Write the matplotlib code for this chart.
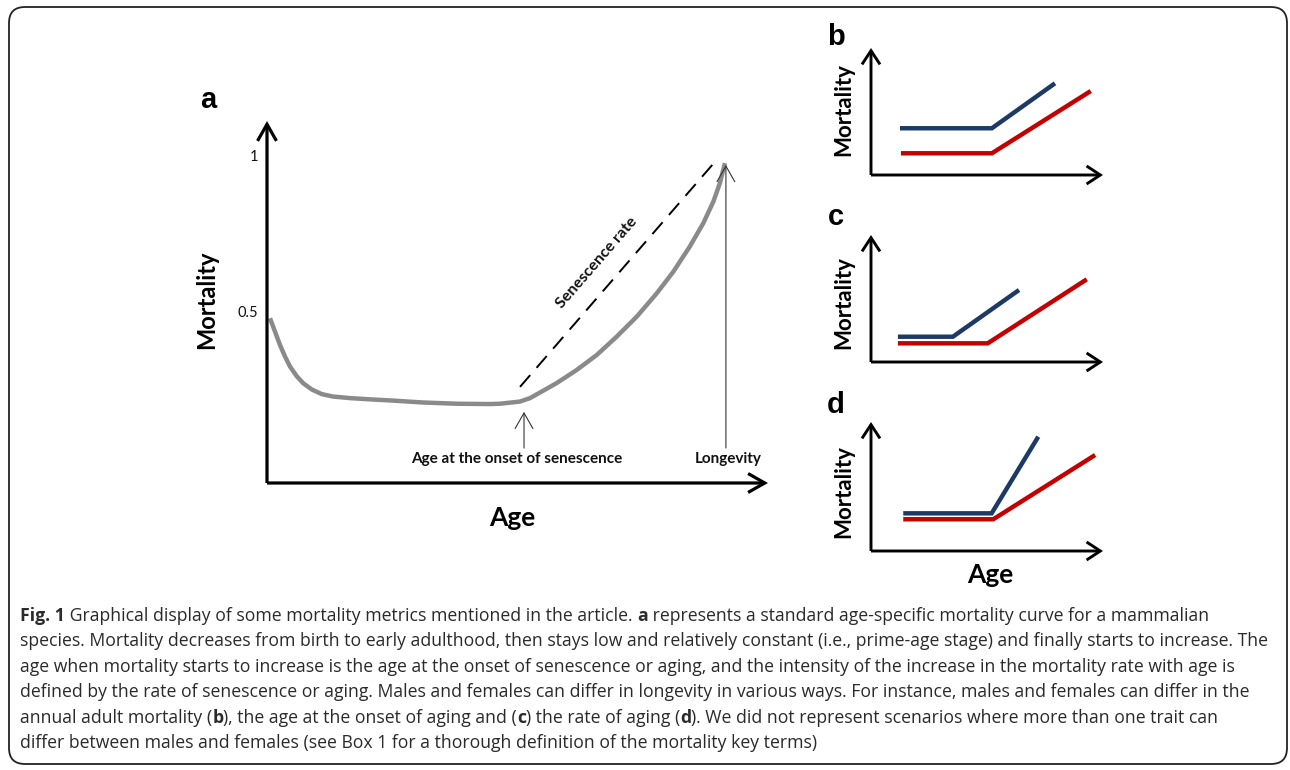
import matplotlib
matplotlib.use("Agg")
import matplotlib.pyplot as plt
from matplotlib.patches import FancyBboxPatch
from matplotlib.transforms import IdentityTransform

# panel a: standard age-specific mortality curve (age 0-100, mortality 0-1)
age_a = [0.6, 1.6, 2.6, 3.6, 4.6, 5.9, 7.2, 8.9, 10.9, 13.2, 16.6, 20.6, 25.2,
         31.1, 37.9, 44.5, 46.5, 50.5, 52.5, 54.5, 57.8, 61.8, 65.8, 69.8, 73.8,
         77.8, 81.1, 84.4, 87.1, 89.1, 90.4, 91.4]
mort_a = [0.483, 0.440, 0.397, 0.360, 0.328, 0.298, 0.275, 0.255, 0.240, 0.232,
          0.227, 0.223, 0.219, 0.213, 0.209, 0.208, 0.209, 0.216, 0.227, 0.245,
          0.275, 0.317, 0.365, 0.424, 0.488, 0.563, 0.632, 0.713, 0.788, 0.857,
          0.916, 0.980]
rate_age = [50.5, 89.4]
rate_mort = [0.263, 0.984]
onset_age = 51.3
longevity_age = 91.6
yticks_a = [0.5, 1.0]
ytick_labels_a = ["0.5", "1"]

# panels b, c, d: males (blue) and females (red), arbitrary units 0-100
b_age_m = [12.5, 52.1, 79.3]
b_mort_m = [36.8, 36.8, 72.2]
b_age_f = [12.9, 52.1, 94.7]
b_mort_f = [17.1, 17.1, 66.1]

c_age_m = [11.6, 35.3, 63.8]
c_mort_m = [19.9, 19.9, 56.7]
c_age_f = [11.6, 50.3, 93.0]
c_mort_f = [14.7, 14.7, 65.1]

d_age_m = [13.9, 52.0, 72.1]
d_mort_m = [29.2, 29.2, 88.6]
d_age_f = [13.9, 52.7, 96.6]
d_mort_f = [24.6, 24.6, 74.4]

caption = [
    [("Fig. 1", True), (" Graphical display of some mortality metrics mentioned in the article. ", False),
     ("a", True), (" represents a standard age-specific mortality curve for a mammalian", False)],
    [("species. Mortality decreases from birth to early adulthood, then stays low and relatively constant "
      "(i.e., prime-age stage) and finally starts to increase. The", False)],
    [("age when mortality starts to increase is the age at the onset of senescence or aging, and the "
      "intensity of the increase in the mortality rate with age is", False)],
    [("defined by the rate of senescence or aging. Males and females can differ in longevity in various "
      "ways. For instance, males and females can differ in the", False)],
    [("annual adult mortality (", False), ("b", True), ("), the age at the onset of aging and (", False),
     ("c", True), (") the rate of aging (", False), ("d", True),
     ("). We did not represent scenarios where more than one trait can", False)],
    [("differ between males and females (see Box 1 for a thorough definition of the mortality key terms)", False)],
]

W, H = 1290, 770
BLUE = "#1d3a66"
RED = "#c40000"
LABEL_FONT = ["Lato", "DejaVu Sans"]


def fx(x):
    return x / W


def fy(y):
    return 1 - y / H


def axis_arrows(ax, lw, hl, hw, ms):
    style = "->,head_length=%s,head_width=%s" % (hl, hw)
    for end in [(1, 0), (0, 1)]:
        ax.annotate("", xy=end, xytext=(0, 0), xycoords="axes fraction",
                    arrowprops=dict(arrowstyle=style, lw=lw, color="black",
                                    mutation_scale=ms, shrinkA=0, shrinkB=0,
                                    joinstyle="miter", capstyle="butt"),
                    annotation_clip=False)


fig = plt.figure(figsize=(W / 100, H / 100), dpi=100)

# rounded frame around the figure
frame = FancyBboxPatch((9, 6), 1278, 757, boxstyle="round,pad=0,rounding_size=16",
                       transform=IdentityTransform(), fill=False, lw=1.3, ec="#222222")
fig.add_artist(frame)

# ---- panel a ----
ax = fig.add_axes([fx(267), fy(483), (768 - 267) / W, (483 - 121) / H])
ax.set_xlim(0, 100)
ax.set_ylim(-0.045, 1.115)
ax.axis("off")
axis_arrows(ax, 2.3, 0.6, 0.34, 20)
ax.plot(age_a, mort_a, color="#8a8a8a", lw=3.2, solid_joinstyle="round",
        solid_capstyle="butt")
ax.plot(rate_age, rate_mort, color="black", lw=1.4, dashes=(8, 5))
for v, lab in zip(yticks_a, ytick_labels_a):
    ax.text(-1.8, v, lab, ha="right", va="center", fontsize=10.5,
            family=LABEL_FONT, color="#111111")
ax.annotate("", xy=(onset_age, 0.183), xytext=(onset_age, 0.067),
            arrowprops=dict(arrowstyle="->,head_length=0.7,head_width=0.4", lw=0.8,
                            color="#333333", mutation_scale=16, shrinkA=0, shrinkB=0))
ax.annotate("", xy=(longevity_age, 0.974), xytext=(longevity_age, 0.067),
            arrowprops=dict(arrowstyle="->,head_length=0.7,head_width=0.4", lw=0.8,
                            color="#333333", mutation_scale=16, shrinkA=0, shrinkB=0))
ax.text(onset_age - 1.4, 0.032, "Age at the onset of senescence", ha="center", va="center",
        fontsize=11, fontweight="bold", family=LABEL_FONT, color="#111111")
ax.text(longevity_age + 0.4, 0.032, "Longevity", ha="center", va="center",
        fontsize=11, fontweight="bold", family=LABEL_FONT, color="#111111")
ax.text(65.8, 0.66, "Senescence rate", ha="center", va="center", rotation=49,
        rotation_mode="anchor", fontsize=11.5, fontweight="bold", family=LABEL_FONT,
        color="#111111")

fig.text(fx(208), fy(100), "a", ha="center", va="center", fontsize=21,
         fontweight="bold", family="Liberation Sans")
fig.text(fx(207), fy(300), "Mortality", ha="center", va="center", rotation=90,
         fontsize=17, fontweight="bold", family=LABEL_FONT)
fig.text(fx(512), fy(518), "Age", ha="center", va="center", fontsize=19,
         fontweight="bold", family=LABEL_FONT)

# ---- panels b, c, d ----
small = [
    ("b", 175, 127, 37, 110, b_age_m, b_mort_m, b_age_f, b_mort_f),
    ("c", 362, 127, 217, 303, c_age_m, c_mort_m, c_age_f, c_mort_f),
    ("d", 551, 129, 405, 492, d_age_m, d_mort_m, d_age_f, d_mort_f),
]
for letter, base, h, ly, my, am, mm, af, mf in small:
    axs = fig.add_axes([fx(871), fy(base), 232 / W, h / H])
    axs.set_xlim(0, 100)
    axs.set_ylim(0, 100)
    axs.axis("off")
    axis_arrows(axs, 2.1, 0.55, 0.36, 18)
    axs.plot(am, mm, color=BLUE, lw=3.2, solid_capstyle="butt", solid_joinstyle="miter")
    axs.plot(af, mf, color=RED, lw=3.2, solid_capstyle="butt", solid_joinstyle="miter")
    fig.text(fx(836), fy(ly), letter, ha="center", va="center", fontsize=21,
             fontweight="bold", family="Liberation Sans")
    fig.text(fx(844), fy(my), "Mortality", ha="center", va="center", rotation=90,
             fontsize=16, fontweight="bold", family=LABEL_FONT)

fig.text(fx(990), fy(575), "Age", ha="center", va="center", fontsize=19,
         fontweight="bold", family=LABEL_FONT)

# ---- caption ----
CAP_FONT = ["Open Sans", "DejaVu Sans"]
renderer = fig.canvas.get_renderer()
probe = fig.text(0, 0, caption[1][0][0], fontsize=10, family=CAP_FONT)
probe_w = probe.get_window_extent(renderer).width
probe.remove()
cap_size = 10 * 1248 / probe_w

for i, line in enumerate(caption):
    x = 20
    y = 621 + 25.4 * i
    for txt, bold in line:
        t = fig.text(fx(x), fy(y), txt, ha="left", va="baseline", fontsize=cap_size,
                     family=CAP_FONT, fontweight="bold" if bold else "normal",
                     color="#2a2a2a")
        x += t.get_window_extent(renderer).width

fig.savefig("out.png", dpi=100)
